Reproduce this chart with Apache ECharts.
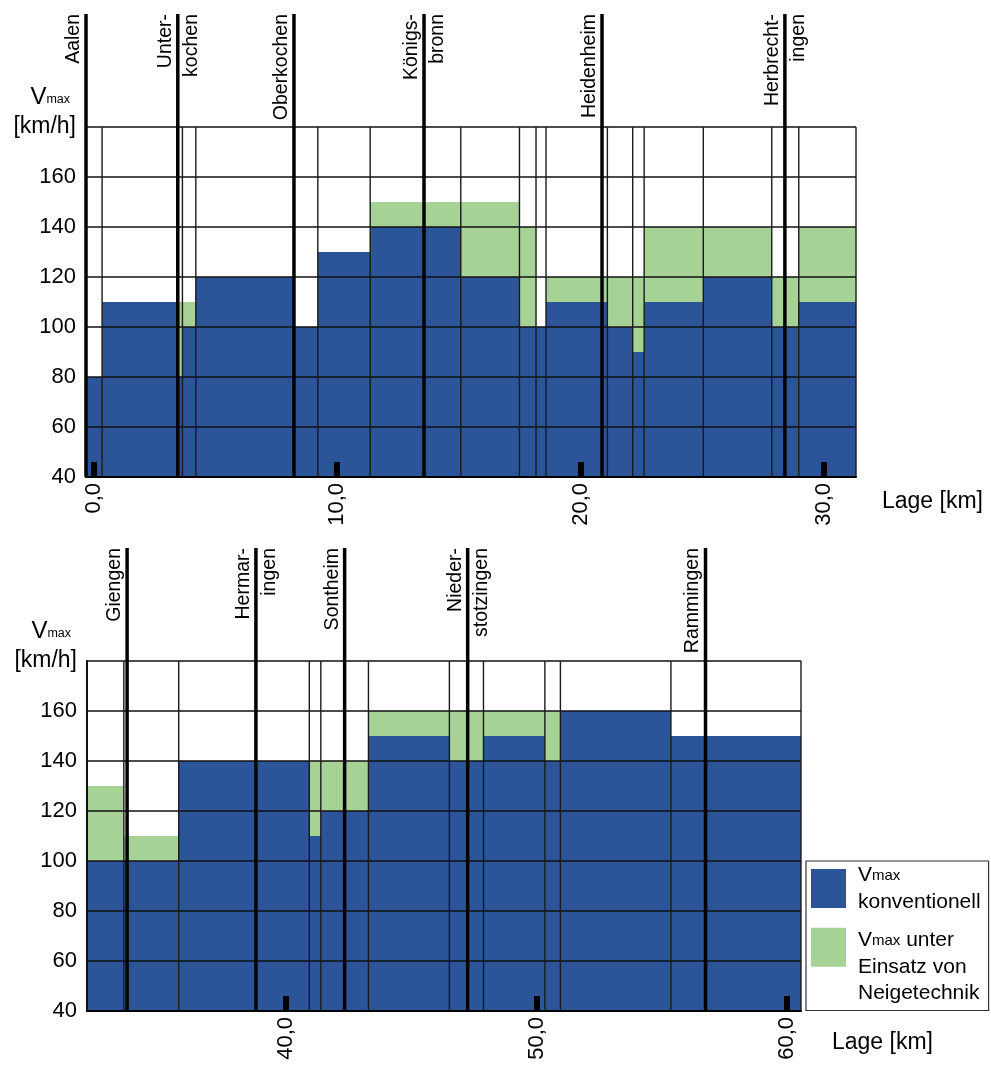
<!DOCTYPE html>
<html>
<head>
<meta charset="utf-8">
<script src="https://cdn.jsdelivr.net/npm/echarts@6/dist/echarts.min.js"></script>
<style>
  html, body { margin: 0; padding: 0; background: #fff; }
  #main { width: 991px; height: 1066px; }
</style>
</head>
<body>
<div id="main"></div>
<script>
// Streckenabschnitte (km) und Vmax-Werte, Teil 1: Aalen - Herbrechtingen
var topEdges = [-0.31, 0.35, 3.43, 3.65, 4.20, 8.23, 9.21, 11.36, 15.08, 17.49, 18.17, 18.58, 21.10, 22.14, 22.61, 25.04, 27.85, 28.96, 31.31];
var topConv = [80, 110, 80, 100, 120, 100, 130, 140, 120, 100, 100, 110, 100, 90, 110, 120, 100, 110];
var topTilt = [80, 110, 110, 110, 120, 100, 130, 150, 150, 140, 100, 120, 120, 120, 140, 140, 120, 140];
var topStations = [-0.31, 3.46, 8.23, 13.57, 20.88, 28.39];
var topNamesLeft = ['Aalen', 'Unter-', 'Oberkochen', 'Königs-', 'Heidenheim', 'Herbrecht-'];
var topNamesRight = ['', 'kochen', '', 'bronn', '', 'ingen'];
var topTicks = [0, 10, 20, 30];

// Teil 2: Giengen - Ulm
var bottomEdges = [32.06, 33.53, 35.72, 40.93, 41.39, 43.29, 46.52, 47.88, 50.33, 50.95, 55.36, 60.55];
var bottomConv = [100, 100, 140, 110, 120, 150, 140, 150, 140, 160, 150];
var bottomTilt = [130, 110, 140, 140, 140, 160, 160, 160, 160, 160, 150];
var bottomStations = [33.66, 38.80, 42.34, 47.25, 56.74];
var bottomNamesLeft = ['Giengen', 'Hermar-', 'Sontheim', 'Nieder-', 'Rammingen'];
var bottomNamesRight = ['', 'ingen', '', 'stotzingen', ''];
var bottomTicks = [40, 50, 60];

var yMin = 40, yMax = 180;
var nameConv = 'Vmax konventionell';
var nameTilt = 'Vmax unter Einsatz von Neigetechnik';
var font = '"Liberation Sans", Arial, sans-serif';

var chartDom = document.getElementById('main');
var myChart = echarts.init(chartDom);

function segments(edges, values) {
  return values.map(function (v, i) { return [edges[i], edges[i + 1], v]; });
}

function renderRect(params, api) {
  var p0 = api.coord([api.value(0), api.value(2)]);
  var p1 = api.coord([api.value(1), yMin]);
  return {
    type: 'rect',
    shape: { x: p0[0], y: p0[1], width: p1[0] - p0[0], height: p1[1] - p0[1] },
    style: api.style({ stroke: null })
  };
}

function renderEdge(params, api) {
  var p0 = api.coord([api.value(0), yMax]);
  var p1 = api.coord([api.value(0), yMin]);
  return {
    type: 'line',
    shape: { x1: p0[0], y1: p0[1], x2: p1[0], y2: p1[1] },
    style: { stroke: '#1a1a1a', lineWidth: 1.4 }
  };
}

function stationRenderer(left, right) {
  return function (params, api) {
    var p0 = api.coord([api.value(0), yMax]);
    var p1 = api.coord([api.value(0), yMin]);
    var top = p0[1] - 113;
    var kids = [{
      type: 'line',
      shape: { x1: p0[0], y1: top, x2: p1[0], y2: p1[1] },
      style: { stroke: '#000', lineWidth: 3.5 }
    }, {
      type: 'text', x: p0[0] - 2.5, y: top, rotation: Math.PI / 2,
      style: { text: left[params.dataIndex], align: 'right', verticalAlign: 'bottom', font: '19.5px ' + font, fill: '#000' }
    }];
    if (right[params.dataIndex]) {
      kids.push({
        type: 'text', x: p0[0] + 4, y: top, rotation: Math.PI / 2,
        style: { text: right[params.dataIndex], align: 'right', verticalAlign: 'top', font: '19.5px ' + font, fill: '#000' }
      });
    }
    return { type: 'group', children: kids };
  };
}

function xAxisFor(idx, min, max, ticks, drop) {
  return {
    type: 'value', gridIndex: idx, min: min, max: max, z: 6,
    name: 'Lage [km]', nameLocation: 'end', nameGap: idx === 0 ? 26 : 31,
    nameTextStyle: { fontSize: 23, color: '#000', verticalAlign: 'top', lineHeight: drop * 2 },
    axisLine: { onZero: false, lineStyle: { color: '#000', width: 2 } },
    axisTick: { show: true, inside: true, length: 15, customValues: ticks, lineStyle: { color: '#000', width: 6 } },
    axisLabel: {
      customValues: ticks, rotate: 90, margin: 6, fontSize: 22, color: '#000',
      formatter: function (v) { return v.toFixed(1).replace('.', ','); }
    },
    splitLine: { show: false }
  };
}

function yAxisFor(idx) {
  return {
    type: 'value', gridIndex: idx, min: yMin, max: yMax, interval: 20, z: 3,
    name: '{v|V}{m|max}', nameLocation: 'end', nameGap: 30,
    nameTextStyle: {
      align: 'right', verticalAlign: 'middle', padding: [0, 16, 0, 0],
      rich: {
        v: { fontSize: 24, color: '#000', lineHeight: 28 },
        m: { fontSize: 12.5, color: '#000', verticalAlign: 'bottom', padding: [0, 0, 5, 0] }
      }
    },
    axisLine: { show: true, onZero: false, lineStyle: { color: '#000', width: 2 } },
    axisTick: { show: false },
    axisLabel: {
      fontSize: 22, color: '#000', margin: 10,
      formatter: function (v) { return v === yMax ? '{k|[km/h]}' : String(v); },
      rich: { k: { fontSize: 23, color: '#000' } }
    },
    splitLine: { show: true, lineStyle: { color: '#111', width: 1.5 } }
  };
}

function fillSeries(name, idx, data, color, z) {
  return {
    name: name, type: 'custom', xAxisIndex: idx, yAxisIndex: idx, z: z,
    renderItem: renderRect, encode: { x: [0, 1], y: 2 },
    itemStyle: { color: color }, data: data, silent: true
  };
}

var blue = '#2b5499';
var green = '#a6d296';

var option = {
  animation: false,
  textStyle: { fontFamily: font },
  grid: [
    { left: 86, top: 127, width: 770, height: 350, outerBoundsMode: 'none' },
    { left: 87, top: 661, width: 714, height: 350, outerBoundsMode: 'none' }
  ],
  xAxis: [
    xAxisFor(0, topEdges[0], topEdges[topEdges.length - 1], topTicks, 25),
    xAxisFor(1, bottomEdges[0], bottomEdges[bottomEdges.length - 1], bottomTicks, 32)
  ],
  yAxis: [yAxisFor(0), yAxisFor(1)],
  legend: {
    orient: 'vertical', left: 806, top: 861,
    padding: [1, 8, 4, 5], itemGap: -27,
    itemWidth: 35, itemHeight: 39, icon: 'rect',
    borderColor: '#333', borderWidth: 1.2, selectedMode: false,
    textStyle: {
      fontSize: 21, lineHeight: 26.5, color: '#000', padding: [0, 0, 0, 7],
      rich: {
        v: { fontSize: 21, lineHeight: 26.5, color: '#000' },
        m: { fontSize: 15, color: '#000', verticalAlign: 'bottom', padding: [0, 0, 5, 0] },
        t: { fontSize: 21, lineHeight: 26.5, color: '#000' }
      }
    },
    data: [
      { name: nameConv },
      { name: nameTilt, textStyle: { padding: [39, 0, 0, 7] } }
    ],
    formatter: function (name) {
      if (name === nameConv) return '{v|V}{m|max}\n{t|konventionell}';
      return '{v|V}{m|max}{t| unter}\n{t|Einsatz von}\n{t|Neigetechnik}';
    }
  },
  series: [
    fillSeries(nameTilt, 0, segments(topEdges, topTilt), green, 1),
    fillSeries(nameConv, 0, segments(topEdges, topConv), blue, 2),
    fillSeries(nameTilt, 1, segments(bottomEdges, bottomTilt), green, 1),
    fillSeries(nameConv, 1, segments(bottomEdges, bottomConv), blue, 2),
    {
      type: 'custom', xAxisIndex: 0, yAxisIndex: 0, z: 4, silent: true,
      renderItem: renderEdge, encode: { x: 0 },
      data: topEdges.map(function (x) { return [x]; })
    },
    {
      type: 'custom', xAxisIndex: 1, yAxisIndex: 1, z: 4, silent: true,
      renderItem: renderEdge, encode: { x: 0 },
      data: bottomEdges.map(function (x) { return [x]; })
    },
    {
      type: 'custom', xAxisIndex: 0, yAxisIndex: 0, z: 5, silent: true, clip: false,
      renderItem: stationRenderer(topNamesLeft, topNamesRight), encode: { x: 0 },
      data: topStations.map(function (x) { return [x]; })
    },
    {
      type: 'custom', xAxisIndex: 1, yAxisIndex: 1, z: 5, silent: true, clip: false,
      renderItem: stationRenderer(bottomNamesLeft, bottomNamesRight), encode: { x: 0 },
      data: bottomStations.map(function (x) { return [x]; })
    }
  ]
};

option && myChart.setOption(option);
</script>
</body>
</html>
